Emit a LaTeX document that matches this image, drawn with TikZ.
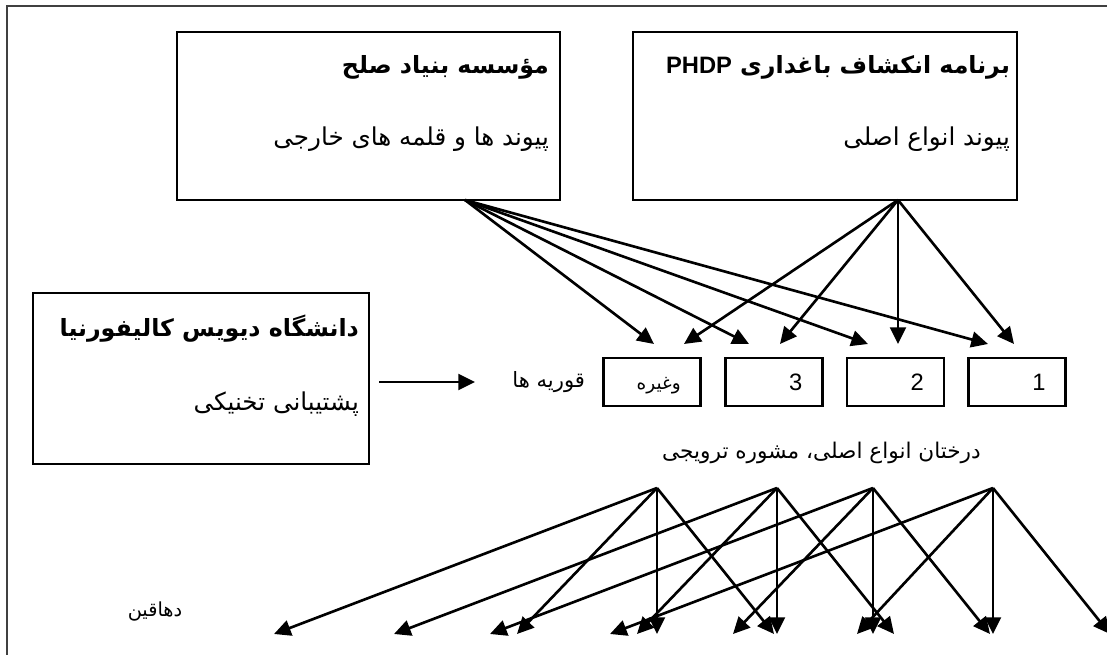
\documentclass[tikz,border=0pt]{standalone}
\usepackage{fontspec}
\setmainfont{Liberation Sans}
\newfontfamily\arabicfont[Script=Arabic]{DejaVu Sans}
\TeXXeTstate=1
\usetikzlibrary{positioning,arrows.meta}
\tikzset{
	bx/.style={draw, line width=1.5pt, inner sep=0pt, minimum height=3.36cm},
	nb/.style={draw, line width=1.5pt, minimum width=1.94cm, minimum height=0.96cm, inner ysep=0pt, inner xsep=0.4cm, text width=1.14cm, align=right},
	hd/.style={inner sep=0pt, font=\arabicfont\bfseries\fontsize{13.5}{15}\selectfont},
	sb/.style={inner sep=0pt, font=\arabicfont\fontsize{14}{16}\selectfont},
	sm/.style={inner sep=0pt, font=\arabicfont\fontsize{12}{14}\selectfont},
	ar/.style={line width=1.5pt, -{Triangle[length=9.5pt, width=9pt]}}
}

\begin{document}
\begin{tikzpicture}[x=0.02cm, y=-0.02cm]
	\useasboundingbox (0,0) rectangle (1107,655);
	\clip (0,0) rectangle (1107,655);
	\draw[line width=1.3pt, black!75] (7,6) rectangle (1130,680);

	% the three sources
	\node[bx, minimum width=7.66cm] (pf) at (368.5,116) {};
	\node[bx, minimum width=7.68cm] (php) at (825,116) {};
	\node[bx, minimum width=6.72cm, minimum height=3.42cm] (ucd) at (201,378.5) {};

	\node[hd, left=0.24cm of pf.north east, yshift=-0.74cm] (pft) {\beginR مؤسسه بنیاد صلح\endR};
	\node[sb, left=0.24cm of pf.north east, yshift=-2.16cm] (pfs) {\beginR پیوند ها و قلمه های خارجی\endR};
	\node[hd, left=0.16cm of php.north east, yshift=-0.74cm] (phpt) {\beginR برنامه انکشاف باغداری {\rmfamily\beginL PHDP\endL}\endR};
	\node[sb, left=0.16cm of php.north east, yshift=-2.16cm] (phps) {\beginR پیوند انواع اصلی\endR};
	\node[hd, left=0.22cm of ucd.north east, yshift=-0.74cm] (ucdt) {\beginR دانشگاه دیویس کالیفورنیا\endR};
	\node[sb, left=0.22cm of ucd.north east, yshift=-2.24cm] (ucds) {\beginR پشتیبانی تخنیکی\endR};

	% nurseries
	\node[nb, font=\fontsize{13.5}{15}\selectfont] (n1) at (1017,382) {1};
	\node[nb, font=\fontsize{13.5}{15}\selectfont, left=0.44cm of n1] (n2) {2};
	\node[nb, font=\fontsize{13.5}{15}\selectfont, left=0.44cm of n2] (n3) {3};
	\node[nb, font=\arabicfont\fontsize{10.5}{12}\selectfont, text height=10pt, text depth=1pt, left=0.44cm of n3] (n4) {\beginR وغیره\endR};
	\node[sm, left=0.34cm of n4] (nur) {\beginR قوریه ها\endR};

	\coordinate (ntip) at (475,382);
	\draw[ar, shorten <=0.18cm] (ucd.east |- ntip) -- (ntip);

	% arrows into the nurseries
	\coordinate (pfo) at (465,200);
	\coordinate (phpo) at (898,200);
	\coordinate (a4) at (654,344);
	\coordinate (a3) at (749,344);
	\coordinate (a2) at (868,344);
	\coordinate (a1) at (988,344);
	\coordinate (b4) at (684,344);
	\coordinate (b3) at (780,344);
	\coordinate (b2) at (898,344);
	\coordinate (b1) at (1014,344);
	\draw (pfo) edge[ar] (a4) edge[ar] (a3) edge[ar] (a2) edge[ar] (a1);
	\draw (phpo) edge[ar] (b4) edge[ar] (b3) edge[ar] (b2) edge[ar] (b1);

	% trees and farmers
	\node[sm, font=\arabicfont\fontsize{12.3}{14}\selectfont] (tr) at (821.5,453) {\beginR درختان انواع اصلی، مشوره ترویجی\endR};
	\node[sm, font=\arabicfont\fontsize{11}{13}\selectfont] (fa) at (155,612) {\beginR دهاقین\endR};

	\coordinate (s1) at (657,488);
	\coordinate (s2) at (777,488);
	\coordinate (s3) at (873,488);
	\coordinate (s4) at (993,488);
	\coordinate (f1) at (274,634);
	\coordinate (f2) at (394,634);
	\coordinate (f3) at (490,634);
	\coordinate (f4) at (517,634);
	\coordinate (f5) at (610,634);
	\coordinate (f6) at (637,634);
	\coordinate (f7) at (657,634);
	\coordinate (f8) at (733,634);
	\coordinate (f9) at (774,634);
	\coordinate (f10) at (777,634);
	\coordinate (f11) at (857,634);
	\coordinate (f12) at (873,634);
	\coordinate (f13) at (894,634);
	\coordinate (f14) at (990,634);
	\coordinate (f15) at (993,634);
	\coordinate (f16) at (1110,634);
	\draw (s1) edge[ar] (f1) edge[ar] (f4) edge[ar] (f7) edge[ar] (f9);
	\draw (s2) edge[ar] (f2) edge[ar] (f6) edge[ar] (f10) edge[ar] (f13);
	\draw (s3) edge[ar] (f3) edge[ar] (f8) edge[ar] (f12) edge[ar] (f14);
	\draw (s4) edge[ar] (f5) edge[ar] (f11) edge[ar] (f15) edge[ar] (f16);
\end{tikzpicture}
\end{document}
